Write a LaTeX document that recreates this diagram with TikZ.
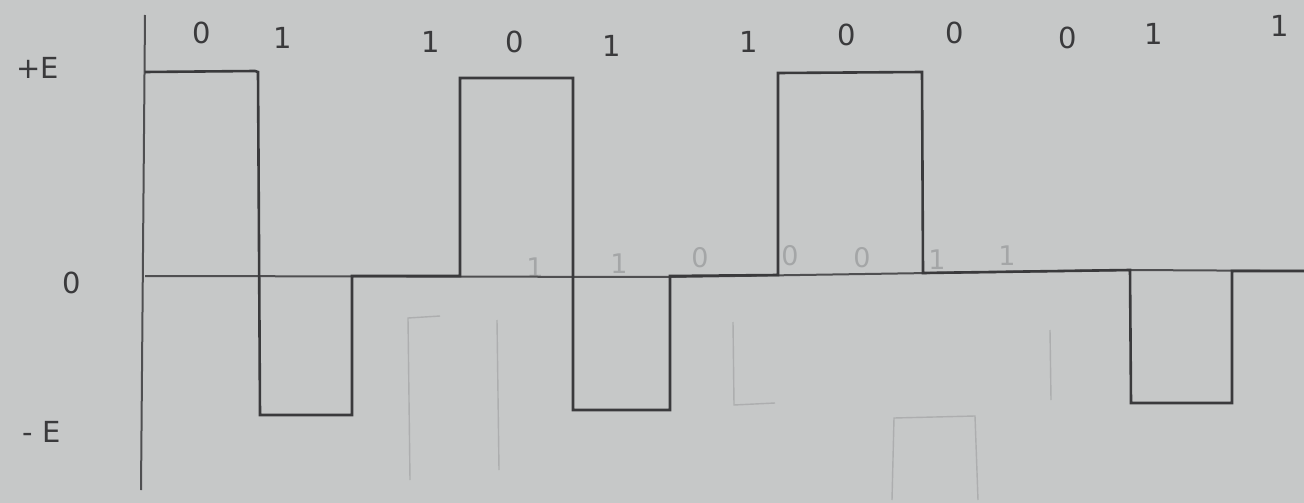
\documentclass[tikz,border=0pt]{standalone}
\usepackage{fontspec}
\setmainfont{DejaVu Sans}
\begin{document}
\begin{tikzpicture}[x=1pt,y=-1pt,
  pencil/.style={draw=pencilc,line width=2.6pt,line join=miter},
  axisline/.style={draw=pencilc!85!paper,line width=2pt},
  faint/.style={draw=pencilc!18!paper,line width=1.4pt},
  lbl/.style={text=pencilc,font=\fontsize{29}{29}\selectfont,inner sep=0pt},
  flbl/.style={text=pencilc!24!paper,font=\fontsize{27}{27}\selectfont,inner sep=0pt}]
\definecolor{paper}{RGB}{198,200,200}
\definecolor{pencilc}{RGB}{58,58,60}
\fill[paper] (0,0) rectangle (1304,503);
\useasboundingbox (0,0) rectangle (1304,503);
% faint ghost marks
\draw[faint] (410,480) -- (408,318) -- (440,316);
\draw[faint] (497,320) -- (499,470);
\draw[faint] (733,322) -- (734,405) -- (775,403);
\draw[faint] (892,500) -- (894,418) -- (975,416) -- (978,500);
\draw[faint] (1050,330) -- (1051,400);
\node[flbl] (g1) at (535,268) {1};
\node[flbl] (g2) at (619,264) {1};
\node[flbl] (g3) at (700,258) {0};
\node[flbl] (g4) at (790,256) {0};
\node[flbl] (g5) at (862,258) {0};
\node[flbl] (g6) at (937,260) {1};
\node[flbl] (g7) at (1007,256) {1};
% axes
\draw[axisline] (145,15) -- (141,490);
\draw[axisline] (145,276) -- (670,277) -- (930,273) -- (1130,270) -- (1304,271);
% waveform
\draw[pencil] (145,72) -- (255,71) -- (258,72) -- (260,415) -- (352,415) -- (352,276)
  -- (460,276) -- (460,78) -- (573,78) -- (573,410) -- (670,410) -- (670,276)
  -- (778,275) -- (778,73) -- (922,72) -- (923,273) -- (1130,270) -- (1131,403)
  -- (1232,403) -- (1232,271) -- (1304,271);
% level labels
\node[lbl] (pe) at (38,68) {+E};
\node[lbl] (ze) at (72,283) {0};
\node[lbl] (me) at (42,432) {- E};
% bit labels
\node[lbl] (b1) at (202,33) {0};
\node[lbl] (b2) at (283,38) {1};
\node[lbl] (b3) at (431,42) {1};
\node[lbl] (b4) at (515,42) {0};
\node[lbl] (b5) at (612,46) {1};
\node[lbl] (b6) at (749,42) {1};
\node[lbl] (b7) at (847,35) {0};
\node[lbl] (b8) at (955,33) {0};
\node[lbl] (b9) at (1068,38) {0};
\node[lbl] (b10) at (1154,34) {1};
\node[lbl] (b11) at (1280,26) {1};
\end{tikzpicture}
\end{document}
